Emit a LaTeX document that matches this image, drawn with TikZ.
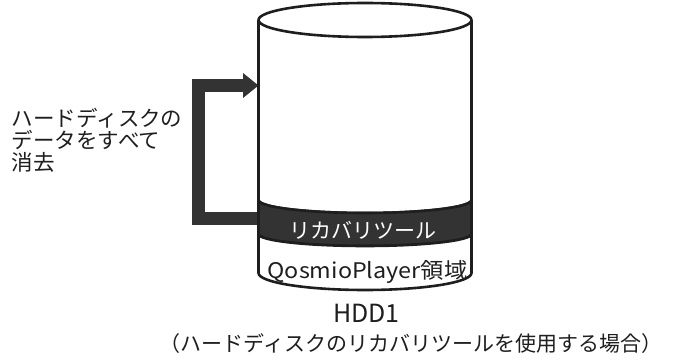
\documentclass[tikz,border=0pt]{standalone}
\usepackage{fontspec}
\setmainfont{Noto Sans CJK JP}
\definecolor{darkband}{HTML}{333333}
\definecolor{inkcol}{HTML}{1E1E1E}
\begin{document}
\begin{tikzpicture}[x=1pt,y=1pt,
  cyl/.style={draw=inkcol,line width=2.6pt,line join=round},
  bracket/.style={draw=darkband,line width=13pt,line join=miter},
  lbl/.style={inner sep=0pt,outer sep=0pt,text=inkcol,font=\fontsize{21.5pt}{23pt}\selectfont}]
\useasboundingbox (0,0) rectangle (673,362);
% bracket arrow
\coordinate (bstart) at (258.5,143);
\coordinate (bend) at (244,276.5);
\draw[bracket] (bstart) -- (198.5,143) -- (198.5,276.5) -- (bend);
\fill[darkband] (243,289) -- (258.5,276.5) -- (243,264) -- cycle;
% main white body
\draw[cyl,fill=white] (258.5,342) -- (258.5,162) arc[start angle=180,end angle=360,x radius=106.5,y radius=13] -- (471.5,342);
\draw[cyl] (365,342) ellipse[x radius=106.5,y radius=17];
% dark band
\draw[cyl,fill=darkband] (258.5,162) arc[start angle=180,end angle=360,x radius=106.5,y radius=13] -- (471.5,128) arc[start angle=0,end angle=-180,x radius=106.5,y radius=12] -- cycle;
% lower band
\draw[cyl,fill=white] (258.5,128) arc[start angle=180,end angle=360,x radius=106.5,y radius=12] -- (471.5,89) arc[start angle=0,end angle=-180,x radius=106.5,y radius=17] -- cycle;
% texts
\node[lbl,anchor=base west] (l1) at (12,235) {ハードディスクの};
\node[lbl,anchor=base west] (l2) at (12,213) {データをすべて};
\node[lbl,anchor=base west] (l3) at (12,191) {消去};
\node[lbl,anchor=base,text=white,font=\fontsize{21pt}{23pt}\selectfont] (rec) at (363,123) {リカバリツール};
\node[lbl,anchor=base] (qos) at (367.5,83) {\scalebox{1.085}[1]{QosmioPlayer領域}};
\node[lbl,anchor=base,font=\fontsize{25pt}{27pt}\selectfont] (hdd) at (366.5,39) {HDD1};
\node[lbl,anchor=base,font=\fontsize{21pt}{23pt}\selectfont] (cap) at (411,10) {（ハードディスクのリカバリツールを使用する場合）};
\end{tikzpicture}
\end{document}
